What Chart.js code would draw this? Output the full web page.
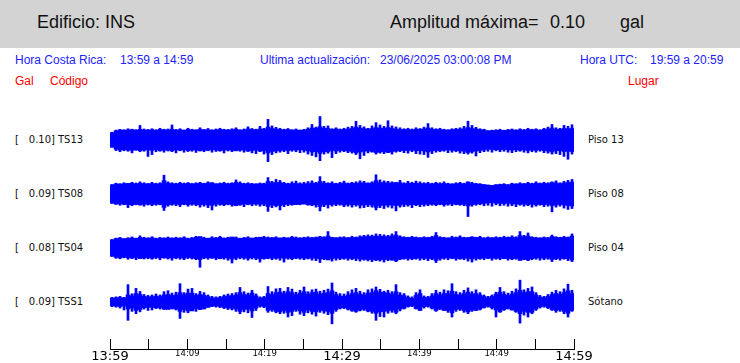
<!DOCTYPE html>
<html>
<head>
<meta charset="utf-8">
<script src="https://cdn.jsdelivr.net/npm/chart.js@4.4.1/dist/chart.umd.min.js"></script>
<style>
    body{margin:0;width:740px;height:363px;background:#fff;position:relative;overflow:hidden;font-family:"Liberation Sans",Arial,sans-serif}
    .t{position:absolute;white-space:nowrap;line-height:20px;height:20px}
    .cab{position:absolute;left:0;top:0;width:740px;height:48px;background:#d3d3d3}
    .big{font-size:18px;color:#111}
    .azul{font-size:12px;color:#2222ff}
    .rojo{font-size:12px;color:#ff0000}
    .est{font-family:"DejaVu Sans",sans-serif;font-size:10px;color:#111}
    canvas{position:absolute;left:0;top:0}
</style>
</head>
<body>
<div class="cab"></div>
<div class="t big" style="left:37px;top:12px">Edificio: INS</div>
<div class="t big" style="left:390px;top:12px">Amplitud máxima=</div>
<div class="t big" style="left:550px;top:12px">0.10</div>
<div class="t big" style="left:620px;top:12px">gal</div>

<div class="t azul" style="left:15px;top:50px">Hora Costa Rica:</div>
<div class="t azul" style="left:120px;top:50px">13:59 a 14:59</div>
<div class="t azul" style="left:260px;top:50px">Ultima actualización:</div>
<div class="t azul" style="left:380px;top:50px">23/06/2025 03:00:08 PM</div>
<div class="t azul" style="left:580px;top:50px">Hora UTC:</div>
<div class="t azul" style="left:650px;top:50px">19:59 a 20:59</div>

<div class="t rojo" style="left:15px;top:71px">Gal</div>
<div class="t rojo" style="left:50px;top:71px">Código</div>
<div class="t rojo" style="left:628px;top:71px">Lugar</div>

<div id="etiquetas"></div>
<canvas id="trazas" width="740" height="363"></canvas>
<canvas id="eje" width="740" height="363"></canvas>

<script>
// estaciones (de arriba hacia abajo)
var codigos = ["TS13", "TS08", "TS04", "TSS1"];
var lugares = ["Piso 13", "Piso 08", "Piso 04", "Sótano"];
var maximos = ["0.10", "0.09", "0.08", "0.09"];
var centrosY = [140, 194, 248, 302];

// eje de tiempo, cada 10 min
var horas = ["13:59", "14:09", "14:19", "14:29", "14:39", "14:49", "14:59"];
var horasGrandes = ["13:59", "14:29", "14:59"];

// envolvente de cada traza (% de la amplitud maxima), 116 intervalos de ~31 s
// Hi/Lo = picos extremos, Core = banda solida
var ts13Hi = [33,42,45,44,48,46,44,62,47,45, 48,44,50,46,47,64,45,48,43,50, 46,44,52,45,49,44,47,50,46,45,
    48,52,44,47,56,49,46,58,50,88, 60,54,50,46,49,44,47,43,45,52, 66,55,100,58,60,48,52,47,50,55,
    58,80,62,56,50,60,74,64,58,82, 60,56,52,48,50,47,52,49,55,70, 52,48,50,46,44,48,50,52,58,80,
    62,54,48,46,40,42,44,46,42,45, 47,44,48,45,50,46,48,44,50,55, 66,52,50,62,58,65];
var ts13Lo = [-30,-45,-50,-46,-48,-55,-44,-50,-48,-70, -62,-50,-48,-52,-47,-50,-55,-46,-52,-49, -48,-53,-47,-50,-46,-52,-49,-48,-55,-47,
    -50,-46,-48,-52,-49,-55,-58,-50,-60,-92, -62,-55,-52,-50,-58,-48,-50,-54,-52,-60, -66,-72,-88,-60,-56,-75,-58,-52,-50,-54,
    -56,-62,-80,-66,-55,-52,-60,-56,-58,-54, -60,-52,-50,-54,-56,-50,-58,-60,-62,-74, -58,-52,-50,-48,-54,-52,-50,-56,-58,-60,
    -56,-68,-54,-50,-48,-52,-46,-50,-48,-52, -54,-50,-48,-52,-55,-50,-52,-48,-54,-56, -60,-58,-62,-70,-82,-60];
var ts13Core = [31,39,43,41,43,44,42,45,43,42, 44,41,45,43,43,46,42,44,41,45, 43,42,46,43,44,41,43,45,43,42,
    44,46,42,43,47,45,43,47,46,55, 49,47,45,43,45,42,43,41,43,46, 51,49,57,50,49,45,47,44,45,47,
    49,55,51,48,46,49,53,51,49,53, 49,47,45,44,45,43,46,45,47,51, 46,44,45,43,42,44,45,46,48,53,
    49,47,44,43,39,40,41,42,40,42, 43,41,44,42,45,43,44,41,45,47, 51,46,45,49,48,49];

var ts08Hi = [40,46,44,48,45,50,47,52,48,45, 50,46,48,80,52,48,46,50,47,49, 45,48,50,46,52,48,44,47,50,46,
    48,60,52,46,48,45,44,47,46,70, 54,62,58,50,46,52,55,48,50,53, 56,50,74,54,48,52,46,50,55,47,
    50,52,56,54,48,52,82,60,56,54, 52,50,58,48,54,50,55,52,48,50, 46,50,48,52,46,44,48,50,46,52,
    50,46,44,40,38,36,40,42,44,40, 46,44,48,45,50,46,52,47,50,48, 52,56,48,54,58,62];
var ts08Lo = [-40,-44,-48,-46,-58,-50,-46,-48,-52,-47, -50,-48,-46,-70,-52,-48,-50,-54,-46,-52, -48,-50,-56,-52,-58,-68,-52,-48,-50,-46,
    -52,-50,-48,-54,-46,-50,-48,-52,-50,-74, -58,-55,-68,-54,-50,-48,-44,-46,-42,-48, -50,-56,-72,-54,-60,-52,-50,-48,-54,-52,
    -56,-52,-60,-58,-54,-56,-68,-58,-62,-56, -60,-72,-56,-54,-52,-58,-50,-54,-52,-50, -48,-50,-46,-52,-48,-50,-46,-48,-50,-96,
    -52,-48,-46,-50,-48,-52,-46,-50,-48,-52, -50,-54,-48,-52,-50,-56,-52,-48,-54,-52, -76,-56,-52,-60,-66,-62];
var ts08Core = [39,43,42,44,45,46,43,46,44,43, 45,43,44,57,46,44,43,45,43,45, 43,44,46,44,47,48,43,44,45,43,
    45,49,46,43,44,43,42,44,43,53, 47,49,49,45,43,45,45,43,43,45, 47,45,53,46,45,45,43,44,47,44,
    46,45,48,47,45,47,57,49,48,47, 47,49,48,44,46,45,46,45,44,44, 43,45,43,45,43,42,44,45,43,51,
    45,43,42,40,38,37,39,40,41,39, 43,42,44,43,45,43,46,44,45,44, 49,47,44,47,49,51];

var ts04Hi = [36,42,45,40,44,47,42,52,46,44, 48,42,45,44,47,43,46,44,48,42, 45,50,44,46,42,48,45,50,43,46,
    44,47,42,45,48,43,46,44,50,47, 45,48,43,46,44,50,47,44,46,48, 45,47,50,48,70,46,44,47,48,45,
    50,47,52,54,56,55,60,58,56,54, 60,70,52,48,46,50,47,45,48,46, 50,66,48,46,44,50,47,52,46,45,
    48,46,50,44,47,45,48,46,50,47, 52,48,70,54,64,48,46,44,47,45, 55,48,46,50,47,60];
var ts04Lo = [-36,-44,-46,-42,-48,-45,-50,-44,-47,-46, -48,-45,-50,-44,-47,-52,-46,-48,-50,-45, -47,-50,-82,-46,-48,-44,-50,-46,-48,-52,
    -64,-50,-46,-48,-52,-47,-50,-60,-48,-46, -50,-48,-52,-60,-48,-50,-46,-48,-50,-47, -52,-54,-62,-50,-48,-56,-52,-50,-48,-52,
    -50,-54,-56,-52,-55,-58,-54,-56,-60,-54, -52,-58,-50,-48,-52,-50,-48,-52,-50,-54, -50,-62,-52,-48,-50,-46,-52,-48,-50,-56,
    -60,-52,-48,-50,-46,-52,-48,-50,-46,-52, -50,-48,-52,-50,-54,-50,-48,-52,-50,-48, -58,-50,-52,-48,-54,-58];
var ts04Core = [35,40,42,39,41,43,40,45,42,41, 44,40,42,41,43,42,42,41,44,40, 42,45,49,42,41,43,42,45,41,43,
    47,43,40,42,44,41,43,46,45,43, 43,44,42,44,42,45,43,42,43,44, 43,44,47,45,51,45,43,44,44,43,
    45,44,47,48,49,49,51,50,49,48, 51,55,47,45,44,45,44,43,44,44, 45,53,45,43,42,44,44,46,43,44,
    47,44,45,42,44,43,44,43,45,44, 46,44,53,48,51,45,43,42,44,43, 49,45,44,45,45,51];

var tss1Hi = [20,22,24,20,74,35,58,45,32,28, 30,34,30,44,48,38,42,78,40,55, 58,36,45,40,30,24,22,24,30,34,
    36,40,62,44,38,50,34,22,24,66, 44,56,58,46,62,55,42,50,64,44, 52,55,46,50,55,81,42,36,34,44,
    52,58,46,40,52,56,64,54,46,50, 44,74,40,36,26,22,40,52,26,24, 36,50,42,52,48,78,44,40,50,60,
    44,52,40,30,24,30,42,62,44,38, 46,56,93,52,58,64,40,28,24,32, 42,50,44,56,76,50];
var tss1Lo = [-20,-22,-26,-34,-78,-40,-50,-42,-30,-36, -34,-28,-30,-32,-28,-30,-34,-70,-44,-46, -36,-40,-32,-30,-22,-20,-22,-24,-28,-32,
    -34,-40,-50,-42,-46,-66,-36,-22,-24,-44, -40,-46,-50,-48,-64,-58,-40,-52,-58,-46, -52,-60,-44,-48,-54,-93,-40,-30,-28,-34,
    -40,-44,-38,-36,-42,-48,-78,-62,-64,-48, -44,-50,-38,-30,-22,-20,-30,-36,-26,-22, -30,-40,-32,-36,-44,-64,-40,-36,-44,-50,
    -40,-36,-34,-26,-22,-30,-64,-44,-36,-30, -34,-44,-90,-56,-64,-50,-36,-26,-22,-28, -36,-44,-40,-50,-64,-40];
var tss1Core = [16,18,19,17,30,26,36,32,24,22, 23,25,23,30,32,28,30,40,32,38, 38,28,32,29,23,18,17,19,23,26,
    27,30,40,32,30,38,26,17,19,36, 32,40,42,36,44,40,32,38,44,34, 40,42,34,38,40,48,32,26,24,30,
    36,40,34,30,38,40,48,42,40,38, 34,44,30,27,19,16,28,36,20,18, 26,36,30,36,36,46,32,30,36,42,
    34,36,30,23,18,24,34,42,32,28, 34,40,50,40,44,44,30,21,18,24, 32,36,33,40,48,36];

var trazasHi = [ts13Hi, ts08Hi, ts04Hi, tss1Hi];
var trazasLo = [ts13Lo, ts08Lo, ts04Lo, tss1Lo];
var trazasCore = [ts13Core, ts08Core, ts04Core, tss1Core];

// etiquetas a los lados de cada traza
var html = "";
for (var k = 0; k < codigos.length; k++) {
    var yTxt = centrosY[k] - 10;
    html += "<div class='t est' style='left:15px;top:" + yTxt + "px'>[</div>";
    html += "<div class='t est' style='left:15px;width:40px;text-align:right;top:" + yTxt + "px'>" + maximos[k] + "]</div>";
    html += "<div class='t est' style='left:58px;top:" + yTxt + "px'>" + codigos[k] + "</div>";
    html += "<div class='t est' style='left:588px;top:" + yTxt + "px'>" + lugares[k] + "</div>";
}
document.getElementById("etiquetas").innerHTML = html;

// cada traza ocupa una franja de 230 unidades (+-115)
function base(k) { return 805 - 230 * k; }
function picos(hi, lo, k) {
    return hi.map(function (h, i) { return [base(k) + lo[i], base(k) + h]; });
}
function banda(core, k) {
    return core.map(function (c) { return [base(k) - c, base(k) + c]; });
}

var bins = ts13Hi.map(function (v, i) { return i; });
var datasets = [];
for (var k = 0; k < 4; k++) {
    datasets.push({
        data: banda(trazasCore[k], k),
        backgroundColor: "#0000ff", borderWidth: 0,
        barPercentage: 1, categoryPercentage: 1, grouped: false
    });
    datasets.push({
        data: picos(trazasHi[k], trazasLo[k], k),
        backgroundColor: "#0000ff", borderWidth: 0,
        barThickness: 2, grouped: false
    });
}

new Chart(document.getElementById("trazas"), {
    type: "bar",
    data: {labels: bins, datasets: datasets},
    options: {
        animation: false, responsive: false, events: [],
        plugins: {legend: {display: false}, tooltip: {enabled: false}},
        layout: {padding: {left: 110, right: 166, top: 113, bottom: 34}},
        scales: {
            x: {display: false},
            y: {display: false, min: 0, max: 920}
        }
    }
});

// eje de tiempo (minutos desde 13:59)
new Chart(document.getElementById("eje"), {
    type: "line",
    data: {datasets: []},
    options: {
        animation: false, responsive: false, events: [],
        plugins: {legend: {display: false}, tooltip: {enabled: false}},
        layout: {padding: {left: 110, right: 166, top: 339, bottom: 0}},
        scales: {
            x: {
                type: "linear", min: 0, max: 60, position: "bottom",
                afterFit: function (s) { s.height = 14; },
                grid: {color: "#000", lineWidth: 1, drawTicks: false},
                border: {color: "#000", width: 1},
                ticks: {
                    stepSize: 5, padding: 0, autoSkip: false, maxRotation: 0, color: "#000",
                    callback: function (v) { return v % 10 === 0 ? horas[v / 10] : ""; },
                    font: function (c) {
                        var lbl = c.tick ? horas[c.tick.value / 10] : null;
                        if (horasGrandes.indexOf(lbl) >= 0) return {family: "DejaVu Sans", size: 13};
                        return {family: "DejaVu Sans", size: 8.5};
                    }
                }
            },
            y: {display: false, min: 0, max: 1}
        }
    }
});
</script>
</body>
</html>
